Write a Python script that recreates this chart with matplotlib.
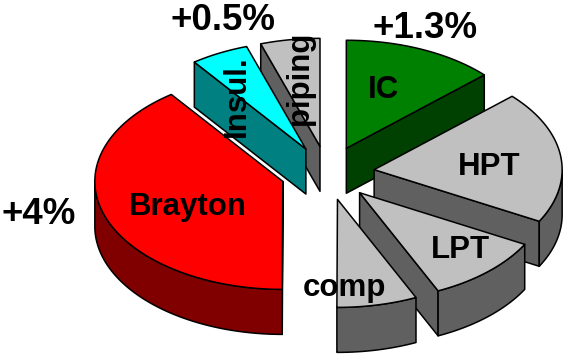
import numpy as np
import matplotlib
matplotlib.use("Agg")
import matplotlib.pyplot as plt
from matplotlib.patches import Polygon

plt.rcParams['font.family'] = ['Liberation Sans', 'DejaVu Sans']

# Slices in clockwise order starting from 12 o'clock, share of the whole in percent
slice_names = ["IC", "HPT", "LPT", "comp", "Brayton", "Insul.", "piping"]
slice_shares = [13.1, 19.8, 10.2, 6.9, 39.8, 5.0, 5.1]
top_colors = ["#008000", "#C0C0C0", "#C0C0C0", "#C0C0C0", "#FF0000", "#00FFFF", "#C0C0C0"]
side_colors = ["#004000", "#606060", "#606060", "#606060", "#800000", "#008080", "#606060"]

# Back to front, so nearer slices cover the ones behind them
draw_order = ["piping", "IC", "Brayton", "Insul.", "HPT", "LPT", "comp"]

gain_labels = ["+0.5%", "+1.3%", "+4%"]
gain_pos = [(223, 20), (425, 29), (39, 214)]

# Projection of the tilted pie, in pixels
cx, cy = 327.5, 173
rx, ry = 188, 108
depth = 45
explode = 0.25


def rim(t, x0, y0):
    return np.column_stack([x0 + rx * np.sin(t), y0 - ry * np.cos(t)])


def draw_slice(ax, t1, t2, top, side):
    mid = (t1 + t2) / 2
    x0 = cx + explode * rx * np.sin(mid)
    y0 = cy - explode * ry * np.cos(mid)
    down = np.array([0, depth])
    apex = np.array([[x0, y0]])

    style = dict(edgecolor="black", linewidth=1.1, joinstyle="round")

    # Flat cut faces, only the ones turned towards the viewer
    if t1 > np.pi + 1e-6:
        e = rim(np.array([t1]), x0, y0)
        ax.add_patch(Polygon(np.vstack([apex, e, e + down, apex + down]), facecolor=side, **style))
    if t2 < np.pi - 1e-6:
        e = rim(np.array([t2]), x0, y0)
        ax.add_patch(Polygon(np.vstack([apex, e, e + down, apex + down]), facecolor=side, **style))

    # Outer wall on the front half of the ellipse
    lo, hi = max(t1, np.pi / 2), min(t2, 3 * np.pi / 2)
    if hi > lo:
        t = np.linspace(lo, hi, 80)
        arc = rim(t, x0, y0)
        ax.add_patch(Polygon(np.vstack([arc, arc[::-1] + down]), facecolor=side, **style))

    # Top face
    arc = rim(np.linspace(t1, t2, 120), x0, y0)
    ax.add_patch(Polygon(np.vstack([apex, arc]), facecolor=top, **style))


fig = plt.figure(figsize=(5.65, 3.55), dpi=100)
ax = fig.add_axes([0, 0, 1, 1])
ax.set_xlim(0, 565)
ax.set_ylim(355, 0)
ax.axis('off')

edges = np.radians(np.cumsum([0] + slice_shares) * 360 / sum(slice_shares))
for name in draw_order:
    i = slice_names.index(name)
    draw_slice(ax, edges[i], edges[i + 1], top_colors[i], side_colors[i])

# Slice labels
label_pos = {"IC": (383, 90), "HPT": (489, 167), "LPT": (460, 250), "comp": (344, 288),
             "Brayton": (188, 207), "Insul.": (237, 96), "piping": (300, 78)}
for name, (x, y) in label_pos.items():
    rot = 90 if name in ("Insul.", "piping") else 0
    ax.text(x, y, name, fontsize=22.5, fontweight='bold', color='black',
            ha='center', va='center', rotation=rot)

for label, (x, y) in zip(gain_labels, gain_pos):
    ax.text(x, y, label, fontsize=26.5, fontweight='bold', color='black', ha='center', va='center')

fig.savefig("out.png", dpi=100)
